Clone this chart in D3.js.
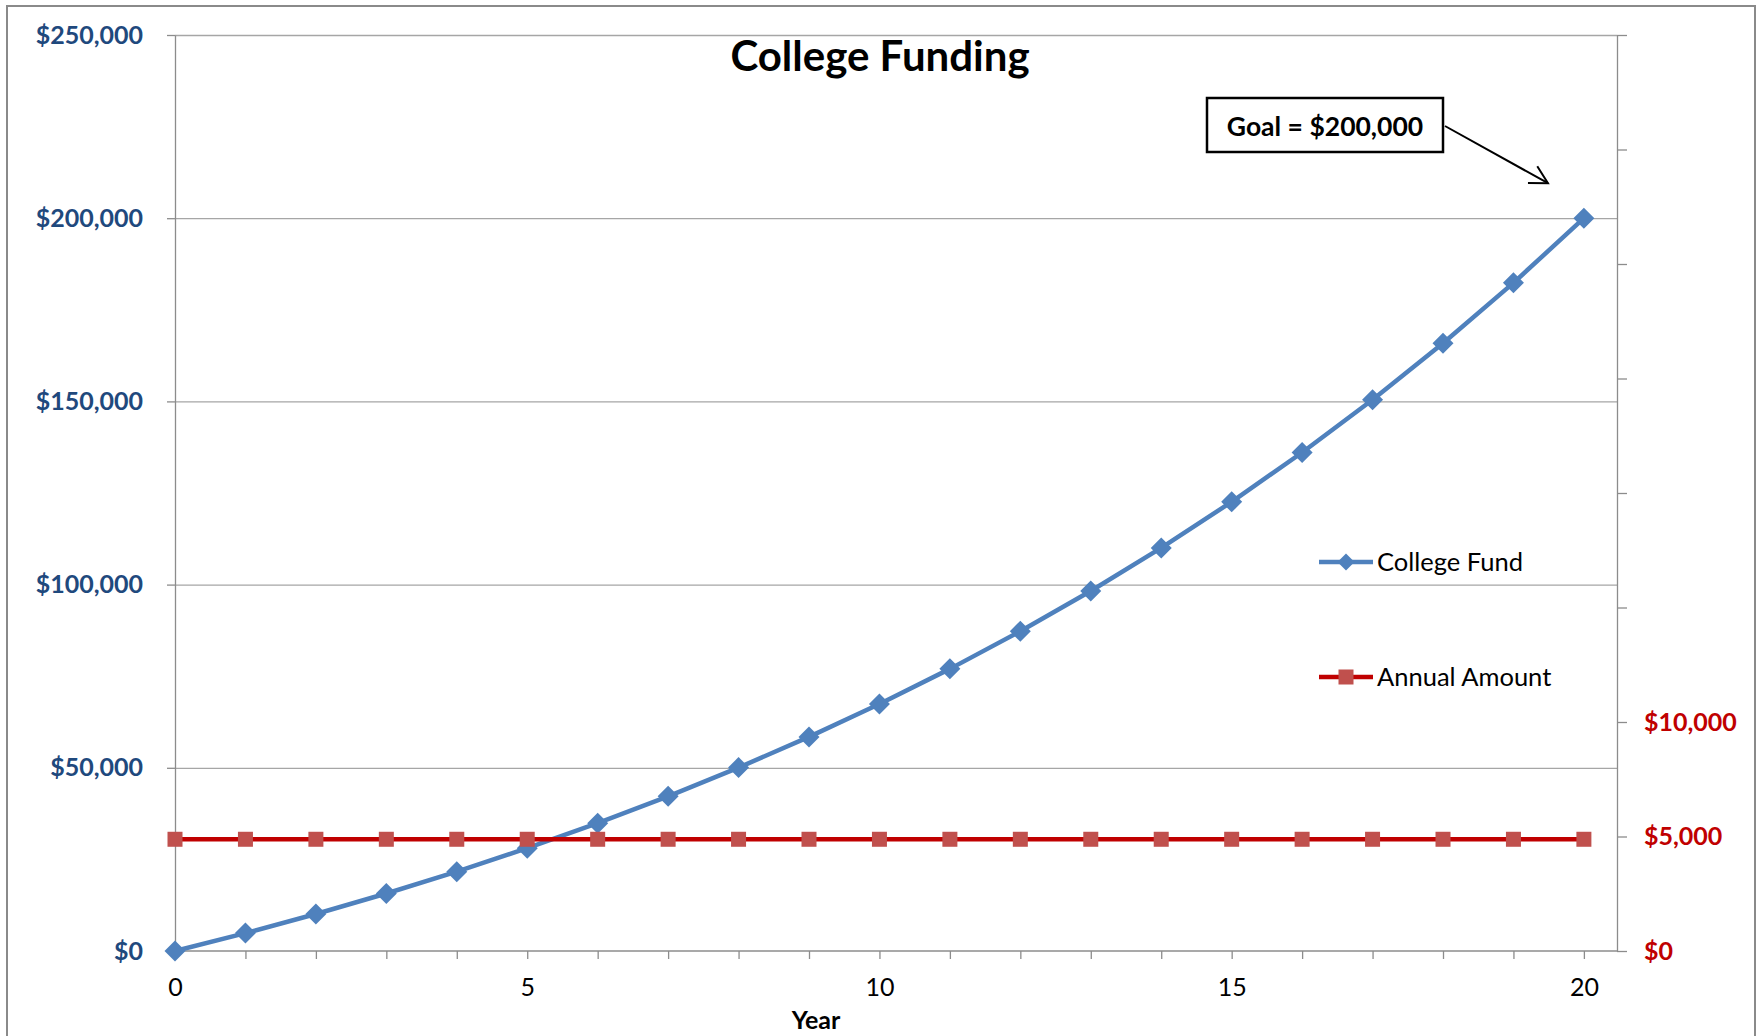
<!DOCTYPE html>
<html>
<meta charset="utf-8">
<head>
<title>College Funding</title>
<style>
body { margin: 0; background: #fff; }
svg { display: block; font-family: Lato, "Open Sans", sans-serif; }
</style>
<script src="https://d3js.org/d3.v7.min.js"></script>
</head>
<body>
<svg></svg>
<script>

// data
var years = [0, 1, 2, 3, 4, 5, 6, 7, 8, 9, 10, 11, 12, 13, 14, 15, 16, 17, 18, 19, 20];
var collegeFund = [0, 4879, 10099, 15684, 21661, 28056, 34898, 42220, 50054, 58436, 67405,
                   77002, 87271, 98258, 110015, 122594, 136054, 150457, 165867, 182356, 200000];
var annualAmount = [4879, 4879, 4879, 4879, 4879, 4879, 4879, 4879, 4879, 4879, 4879,
                    4879, 4879, 4879, 4879, 4879, 4879, 4879, 4879, 4879, 4879];
var seriesNames = ["College Fund", "Annual Amount"];
var leftTicks = [0, 50000, 100000, 150000, 200000, 250000];
var rightTicks = [0, 5000, 10000, 15000, 20000, 25000, 30000, 35000, 40000];
var rightLabelled = [0, 5000, 10000];
var xLabelTicks = [0, 5, 10, 15, 20];
var goal = 200000;

var width = 1761, height = 1036;
var svg = d3.select("svg").attr("width", width).attr("height", height);

// plot box (note: "top" is taken by window.top)
var pLeft = 175, pRight = 1617, pTop = 35, pBottom = 951;
var blue = "#4F81BD", red = "#C00000", redMarker = "#C0504D";
var axisGray = "#8c8c8c";

var x = d3.scaleLinear().domain([0, 20.47]).range([pLeft, pRight]);
var y = d3.scaleLinear().domain([0, 250000]).range([pBottom, pTop]);
var y2 = d3.scaleLinear().domain([0, 40000]).range([pBottom, pTop]);

// outer frame
svg.append("rect")
    .attr("x", 7).attr("y", 6)
    .attr("width", 1748).attr("height", 1060)
    .attr("fill", "none").attr("stroke", "#8a8a8a").attr("stroke-width", 2);

// gridlines
svg.append("g")
    .attr("transform", "translate(" + pLeft + ",0)")
    .call(d3.axisLeft(y).tickValues(leftTicks.slice(1)).tickSize(-(pRight - pLeft)).tickFormat(""))
    .call(g => g.select(".domain").remove())
    .selectAll("line").attr("stroke", "#a6a6a6").attr("stroke-width", 1.3);

// left axis
var gl = svg.append("g")
    .attr("transform", "translate(" + pLeft + ",0)")
    .call(d3.axisLeft(y).tickValues(leftTicks).tickSize(8).tickSizeOuter(0)
        .tickPadding(24).tickFormat(d3.format("$,")));
gl.select(".domain").attr("stroke", axisGray).attr("stroke-width", 1.3);
gl.selectAll("line").attr("stroke", axisGray).attr("stroke-width", 1.3);
gl.selectAll("text").attr("fill", "#1F497D").attr("font-size", 25)
    .attr("font-weight", "bold").attr("font-family", "Lato");

// right axis
var gr = svg.append("g")
    .attr("transform", "translate(" + pRight + ",0)")
    .call(d3.axisRight(y2).tickValues(rightTicks).tickSize(10).tickSizeOuter(0)
        .tickPadding(17).tickFormat(d => rightLabelled.indexOf(d) >= 0 ? d3.format("$,")(d) : ""));
gr.select(".domain").attr("stroke", axisGray).attr("stroke-width", 1.3);
gr.selectAll("line").attr("stroke", axisGray).attr("stroke-width", 1.3);
gr.selectAll("text").attr("fill", red).attr("font-size", 25)
    .attr("font-weight", "bold").attr("font-family", "Lato");

// bottom axis
var gb = svg.append("g")
    .attr("transform", "translate(0," + pBottom + ")")
    .call(d3.axisBottom(x).tickValues(years).tickSize(8).tickSizeOuter(0)
        .tickPadding(19).tickFormat(d => xLabelTicks.indexOf(d) >= 0 ? d : ""));
gb.select(".domain").attr("stroke", axisGray).attr("stroke-width", 1.3)
    .attr("d", "M" + pLeft + ",0H" + pRight);
gb.selectAll("line").attr("stroke", axisGray).attr("stroke-width", 1.3);
gb.selectAll("text").attr("fill", "#000").attr("font-size", 25).attr("font-family", "Lato");

// title and axis title
svg.append("text")
    .attr("x", 880).attr("y", 71)
    .attr("text-anchor", "middle")
    .attr("font-size", 42).attr("font-weight", "bold")
    .text("College Funding");

svg.append("text")
    .attr("x", 816).attr("y", 1029)
    .attr("text-anchor", "middle")
    .attr("font-size", 25).attr("font-weight", "bold")
    .text("Year");

// College Fund line
var fundPts = years.map((d, i) => [d, collegeFund[i]]);
svg.append("path")
    .datum(fundPts)
    .attr("fill", "none").attr("stroke", blue).attr("stroke-width", 4.5)
    .attr("stroke-linejoin", "round")
    .attr("d", d3.line().x(d => x(d[0])).y(d => y(d[1])));
svg.append("g").selectAll("path")
    .data(fundPts)
    .enter().append("path")
    .attr("transform", d => "translate(" + x(d[0]) + "," + y(d[1]) + ")")
    .attr("d", "M0,-10.5L10.5,0L0,10.5L-10.5,0Z")
    .attr("fill", blue);

// Annual Amount line (secondary axis)
var annPts = years.map((d, i) => [d, annualAmount[i]]);
svg.append("path")
    .datum(annPts)
    .attr("fill", "none").attr("stroke", red).attr("stroke-width", 4.5)
    .attr("d", d3.line().x(d => x(d[0])).y(d => y2(d[1])));
svg.append("g").selectAll("rect")
    .data(annPts)
    .enter().append("rect")
    .attr("x", d => x(d[0]) - 7.5).attr("y", d => y2(d[1]) - 7.5)
    .attr("width", 15).attr("height", 15)
    .attr("fill", redMarker);

// legend
var legend = svg.append("g").selectAll("g")
    .data(seriesNames)
    .enter().append("g")
    .attr("transform", (d, i) => "translate(1319," + (562 + i * 115) + ")");
legend.append("line")
    .attr("x1", 0).attr("x2", 54)
    .attr("stroke", (d, i) => i == 0 ? blue : red)
    .attr("stroke-width", 4.5);
legend.filter((d, i) => i == 0).append("path")
    .attr("d", "M27,-8.5L35.5,0L27,8.5L18.5,0Z").attr("fill", blue);
legend.filter((d, i) => i == 1).append("rect")
    .attr("x", 19.5).attr("y", -7.5).attr("width", 15).attr("height", 15)
    .attr("fill", redMarker);
legend.append("text")
    .attr("x", 58).attr("y", 8.5)
    .attr("font-size", 25.5)
    .text(d => d);

// goal annotation
svg.append("rect")
    .attr("x", 1207).attr("y", 98).attr("width", 236).attr("height", 54)
    .attr("fill", "#fff").attr("stroke", "#000").attr("stroke-width", 2.5);
svg.append("text")
    .attr("x", 1325).attr("y", 136)
    .attr("text-anchor", "middle")
    .attr("font-size", 26.5).attr("font-weight", "bold")
    .text("Goal = " + d3.format("$,")(goal));

var ax0 = 1445, ay0 = 126, ax1 = x(19.49), ay1 = y(goal) - 35;
var ang = Math.atan2(ay1 - ay0, ax1 - ax0);
var arrow = svg.append("g").attr("stroke", "#000").attr("stroke-width", 2).attr("fill", "none");
arrow.append("line").attr("x1", ax0).attr("y1", ay0).attr("x2", ax1).attr("y2", ay1);
arrow.append("path")
    .attr("d", "M" + (ax1 - 20 * Math.cos(ang - 0.5)) + "," + (ay1 - 20 * Math.sin(ang - 0.5)) +
        "L" + ax1 + "," + ay1 +
        "L" + (ax1 - 20 * Math.cos(ang + 0.5)) + "," + (ay1 - 20 * Math.sin(ang + 0.5)));

</script>
</body>
</html>
